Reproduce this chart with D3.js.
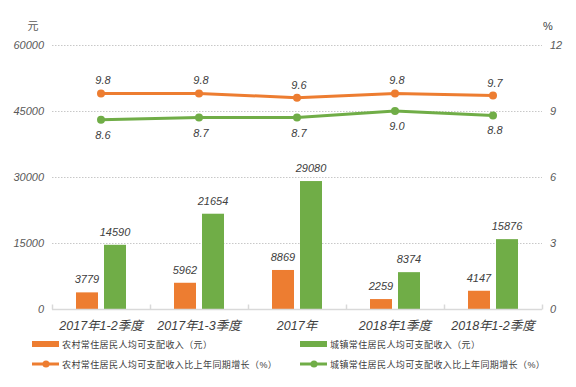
<!DOCTYPE html>
<html>
<head>
<meta charset="utf-8">
<script src="https://cdn.jsdelivr.net/npm/d3@7"></script>
<style>
  body { margin: 0; background: #fff; }
  text { font-family: "Liberation Sans", "Noto Sans CJK SC", sans-serif; }
</style>
</head>
<body>
<svg id="chart" width="576" height="387"></svg>
<script>
// categories and series
const categories = ["2017年1-2季度", "2017年1-3季度", "2017年", "2018年1季度", "2018年1-2季度"];
const ruralIncome = [3779, 5962, 8869, 2259, 4147];
const urbanIncome = [14590, 21654, 29080, 8374, 15876];
const ruralGrowth = [9.8, 9.8, 9.6, 9.8, 9.7];
const urbanGrowth = [8.6, 8.7, 8.7, 9.0, 8.8];
const leftTicks = [0, 15000, 30000, 45000, 60000];
const rightTicks = [0, 3, 6, 9, 12];
const legendLabels = [
  "农村常住居民人均可支配收入（元）",
  "城镇常住居民人均可支配收入（元）",
  "农村常住居民人均可支配收入比上年同期增长（%）",
  "城镇常住居民人均可支配收入比上年同期增长（%）"
];

const orange = "#ED7D31", green = "#70AD47";
const svg = d3.select("#chart");
const margin = { left: 52, right: 34, top: 45, bottom: 78 };
const width = 576, height = 387;

// Scales
const xScale = d3.scaleBand()
  .domain(categories)
  .range([margin.left, width - margin.right])
  .padding(0);

const yLeft = d3.scaleLinear().domain([0, 60000]).range([height - margin.bottom, margin.top]);
const yRight = d3.scaleLinear().domain([0, 12]).range([height - margin.bottom, margin.top]);

// gridlines
svg.append("g")
  .selectAll("line")
  .data(leftTicks.slice(1))
  .join("line")
  .attr("x1", margin.left)
  .attr("x2", width - margin.right)
  .attr("y1", d => yLeft(d) + 0.5)
  .attr("y2", d => yLeft(d) + 0.5)
  .attr("stroke", "#c8c8c8")
  .attr("stroke-dasharray", "1.5,1.5");

// left axis labels
const leftAxis = d3.axisLeft(yLeft).tickValues(leftTicks).tickFormat(d3.format("d")).tickSize(0).tickPadding(8);
svg.append("g")
  .attr("transform", `translate(${margin.left},0)`)
  .call(leftAxis)
  .call(g => g.select(".domain").remove())
  .call(g => g.selectAll("text")
    .attr("font-size", 11)
    .attr("font-style", "italic")
    .attr("fill", "#595959"));

// right axis labels
const rightAxis = d3.axisRight(yRight).tickValues(rightTicks).tickFormat(d3.format("d")).tickSize(0).tickPadding(8);
svg.append("g")
  .attr("transform", `translate(${width - margin.right},0)`)
  .call(rightAxis)
  .call(g => g.select(".domain").remove())
  .call(g => g.selectAll("text")
    .attr("font-size", 11)
    .attr("font-style", "italic")
    .attr("fill", "#595959"));

// unit labels
svg.append("text").attr("x", 33).attr("y", 30).attr("text-anchor", "middle")
  .attr("font-size", 11).attr("fill", "#595959").text("元");
svg.append("text").attr("x", 548).attr("y", 30).attr("text-anchor", "middle")
  .attr("font-size", 11).attr("fill", "#404040").text("%");

// bars
const barW = 22, gap = 6;
const bars = svg.append("g");
categories.forEach((c, i) => {
  const cx = xScale(c) + xScale.bandwidth() / 2;
  const series = [
    { v: ruralIncome[i], color: orange, x: cx - gap / 2 - barW },
    { v: urbanIncome[i], color: green, x: cx + gap / 2 }
  ];
  series.forEach(s => {
    bars.append("rect")
      .attr("x", s.x)
      .attr("y", yLeft(s.v))
      .attr("width", barW)
      .attr("height", yLeft(0) - yLeft(s.v))
      .attr("fill", s.color);
    bars.append("text")
      .attr("x", s.x + barW / 2)
      .attr("y", yLeft(s.v) - 9)
      .attr("text-anchor", "middle")
      .attr("font-size", 11)
      .attr("font-style", "italic")
      .attr("fill", "#404040")
      .text(s.v);
  });
});

// x axis baseline and ticks
const baseY = yLeft(0) + 0.5;
svg.append("line")
  .attr("x1", margin.left).attr("x2", width - margin.right)
  .attr("y1", baseY).attr("y2", baseY)
  .attr("stroke", "#d9d9d9").attr("stroke-width", 1.5);
const tickXs = categories.map(c => xScale(c)).concat([width - margin.right]);
svg.append("g").selectAll("line")
  .data(tickXs)
  .join("line")
  .attr("x1", d => d + 0.5).attr("x2", d => d + 0.5)
  .attr("y1", baseY - 5).attr("y2", baseY)
  .attr("stroke", "#d9d9d9").attr("stroke-width", 1.5);

// category labels
svg.append("g").selectAll("text")
  .data(categories)
  .join("text")
  .attr("x", d => xScale(d) + xScale.bandwidth() / 2)
  .attr("y", 330)
  .attr("text-anchor", "middle")
  .attr("font-size", 12.5)
  .attr("font-style", "italic")
  .attr("fill", "#404040")
  .text(d => d);

// growth lines
const lineGen = d3.line()
  .x((d, i) => xScale(categories[i]) + xScale.bandwidth() / 2)
  .y(d => yRight(d));

[
  { data: ruralGrowth, color: orange, dy: -9 },
  { data: urbanGrowth, color: green, dy: 19 }
].forEach(s => {
  svg.append("path")
    .datum(s.data)
    .attr("d", lineGen)
    .attr("fill", "none")
    .attr("stroke", s.color)
    .attr("stroke-width", 3);
  svg.append("g").selectAll("circle")
    .data(s.data)
    .join("circle")
    .attr("cx", (d, i) => xScale(categories[i]) + xScale.bandwidth() / 2)
    .attr("cy", d => yRight(d))
    .attr("r", 4)
    .attr("fill", s.color);
  svg.append("g").selectAll("text")
    .data(s.data)
    .join("text")
    .attr("x", (d, i) => xScale(categories[i]) + xScale.bandwidth() / 2 + 2)
    .attr("y", d => yRight(d) + s.dy)
    .attr("text-anchor", "middle")
    .attr("font-size", 11)
    .attr("font-style", "italic")
    .attr("fill", "#404040")
    .text(d => d.toFixed(1));
});

// legend
const legendItems = [
  { label: legendLabels[0], color: orange, type: "bar", x: 32, y: 344 },
  { label: legendLabels[1], color: green, type: "bar", x: 300, y: 344 },
  { label: legendLabels[2], color: orange, type: "line", x: 32, y: 364 },
  { label: legendLabels[3], color: green, type: "line", x: 300, y: 364 }
];
const legend = svg.append("g");
legendItems.forEach(item => {
  if (item.type === "bar") {
    legend.append("rect")
      .attr("x", item.x).attr("y", item.y - 3)
      .attr("width", 27).attr("height", 6)
      .attr("fill", item.color);
  } else {
    legend.append("line")
      .attr("x1", item.x).attr("x2", item.x + 27)
      .attr("y1", item.y).attr("y2", item.y)
      .attr("stroke", item.color).attr("stroke-width", 3);
    legend.append("circle")
      .attr("cx", item.x + 14).attr("cy", item.y).attr("r", 3.5)
      .attr("fill", item.color);
  }
  legend.append("text")
    .attr("x", item.x + 30)
    .attr("y", item.y + 3.5)
    .attr("font-size", 9)
    .attr("letter-spacing", 0.4)
    .attr("fill", "#404040")
    .text(item.label);
});
</script>
</body>
</html>
